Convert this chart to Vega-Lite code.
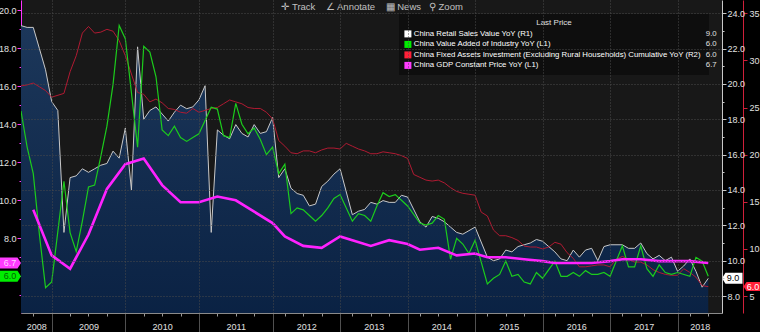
{
"$schema": "https://vega.github.io/schema/vega-lite/v6.json",
"width": 701, "height": 313,
"autosize": {"type": "none"},
"padding": {"left": 21, "top": 0, "right": 38, "bottom": 19},
"background": "#000000",
"title": {"text": "✛ Track\u00a0\u00a0\u00a0 ∠ Annotate\u00a0\u00a0\u00a0 ▦ News\u00a0\u00a0 ⚲ Zoom", "orient": "top", "anchor": "start", "dx": 283, "offset": -11, "fontSize": 9.5, "fontWeight": "normal", "color": "#c0c0c0"},
"config": {"view": {"fill": "#181818", "stroke": null}, "font": "Liberation Sans, sans-serif"},
"datasets": {
"retail": [{"i":0,"v":23.3},{"i":1,"v":23.2},{"i":2,"v":23.2},{"i":3,"v":22.0},{"i":4,"v":20.8},{"i":5,"v":19.0},
{"i":6,"v":18.5},{"i":7,"v":11.6},{"i":8,"v":14.7},{"i":9,"v":14.8},{"i":10,"v":15.2},{"i":11,"v":15.0},{"i":12,"v":15.2},{"i":13,"v":15.4},{"i":14,"v":15.5},{"i":15,"v":16.2},{"i":16,"v":15.8},{"i":17,"v":17.5},
{"i":18,"v":14.0},{"i":19,"v":22.1},{"i":20,"v":18.0},{"i":21,"v":18.5},{"i":22,"v":18.7},{"i":23,"v":18.3},{"i":24,"v":17.9},{"i":25,"v":18.4},{"i":26,"v":18.8},{"i":27,"v":18.6},{"i":28,"v":18.7},{"i":29,"v":19.1},
{"i":30,"v":19.9},{"i":31,"v":11.6},{"i":32,"v":17.4},{"i":33,"v":17.1},{"i":34,"v":16.9},{"i":35,"v":17.7},{"i":36,"v":17.2},{"i":37,"v":17.0},{"i":38,"v":17.7},{"i":39,"v":17.2},{"i":40,"v":17.3},{"i":41,"v":18.1},
{"i":42,"v":14.7},{"i":43,"v":15.2},{"i":44,"v":14.1},{"i":45,"v":13.8},{"i":46,"v":13.7},{"i":47,"v":13.1},{"i":48,"v":13.2},{"i":49,"v":14.2},{"i":50,"v":14.5},{"i":51,"v":14.9},{"i":52,"v":15.2},
{"i":54,"v":12.6},{"i":55,"v":12.8},{"i":56,"v":12.9},{"i":57,"v":13.3},{"i":58,"v":13.2},{"i":59,"v":13.4},{"i":60,"v":13.3},{"i":61,"v":13.3},{"i":62,"v":13.7},{"i":63,"v":13.6},
{"i":65,"v":12.2},{"i":66,"v":11.9},{"i":67,"v":12.5},{"i":68,"v":12.4},{"i":69,"v":12.2},{"i":70,"v":11.9},{"i":71,"v":11.6},{"i":72,"v":11.5},{"i":73,"v":11.7},{"i":74,"v":11.9},
{"i":76,"v":10.2},{"i":77,"v":10.0},{"i":78,"v":10.1},{"i":79,"v":10.6},{"i":80,"v":10.5},{"i":81,"v":10.8},{"i":82,"v":10.9},{"i":83,"v":11.0},{"i":84,"v":11.2},{"i":85,"v":11.1},
{"i":87,"v":10.5},{"i":88,"v":10.1},{"i":89,"v":10.0},{"i":90,"v":10.6},{"i":91,"v":10.2},{"i":92,"v":10.6},{"i":93,"v":10.7},{"i":94,"v":10.0},{"i":95,"v":10.8},{"i":96,"v":10.9},
{"i":98,"v":10.9},{"i":99,"v":10.7},{"i":100,"v":10.7},{"i":101,"v":11.0},{"i":102,"v":10.4},{"i":103,"v":10.1},{"i":104,"v":10.3},{"i":105,"v":10.0},{"i":106,"v":10.2},{"i":107,"v":9.4},
{"i":108,"v":9.7},{"i":109,"v":10.1},{"i":110,"v":9.4},{"i":111,"v":8.5},{"i":112,"v":9.0}],
"ip": [{"i":0,"v":14.7},{"i":1,"v":12.8},{"i":2,"v":11.4},{"i":3,"v":8.2},{"i":4,"v":5.4},{"i":5,"v":5.7},
{"i":7,"v":11.0},{"i":8,"v":8.3},{"i":9,"v":7.3},{"i":10,"v":8.9},{"i":11,"v":10.7},{"i":12,"v":10.8},{"i":13,"v":12.3},{"i":14,"v":13.9},{"i":15,"v":16.1},{"i":16,"v":19.2},{"i":17,"v":18.5},
{"i":19,"v":12.8},{"i":20,"v":18.1},{"i":21,"v":17.8},{"i":22,"v":16.5},{"i":23,"v":13.7},{"i":24,"v":13.4},{"i":25,"v":13.9},{"i":26,"v":13.3},{"i":27,"v":13.1},{"i":28,"v":13.3},{"i":29,"v":13.5},
{"i":31,"v":14.9},{"i":32,"v":14.8},{"i":33,"v":13.4},{"i":34,"v":13.3},{"i":35,"v":15.1},{"i":36,"v":14.0},{"i":37,"v":13.5},{"i":38,"v":13.8},{"i":39,"v":13.2},{"i":40,"v":12.4},{"i":41,"v":12.8},
{"i":42,"v":11.4},{"i":43,"v":11.9},{"i":44,"v":9.3},{"i":45,"v":9.6},{"i":46,"v":9.5},{"i":47,"v":9.2},{"i":48,"v":8.9},{"i":49,"v":9.2},{"i":50,"v":9.6},{"i":51,"v":10.1},{"i":52,"v":10.3},
{"i":54,"v":8.9},{"i":55,"v":9.3},{"i":56,"v":9.2},{"i":57,"v":8.9},{"i":58,"v":9.7},{"i":59,"v":10.4},{"i":60,"v":10.2},{"i":61,"v":10.3},{"i":62,"v":10.0},{"i":63,"v":9.7},
{"i":65,"v":8.8},{"i":66,"v":8.7},{"i":67,"v":8.8},{"i":68,"v":9.2},{"i":69,"v":9.0},{"i":70,"v":6.9},{"i":71,"v":8.0},{"i":72,"v":7.7},{"i":73,"v":7.2},{"i":74,"v":7.9},
{"i":76,"v":5.6},{"i":77,"v":5.9},{"i":78,"v":6.1},{"i":79,"v":6.8},{"i":80,"v":6.0},{"i":81,"v":6.1},{"i":82,"v":5.7},{"i":83,"v":5.6},{"i":84,"v":6.2},{"i":85,"v":5.9},
{"i":87,"v":6.8},{"i":88,"v":6.0},{"i":89,"v":6.0},{"i":90,"v":6.2},{"i":91,"v":6.0},{"i":92,"v":6.3},{"i":93,"v":6.1},{"i":94,"v":6.1},{"i":95,"v":6.2},{"i":96,"v":6.0},
{"i":98,"v":7.6},{"i":99,"v":6.5},{"i":100,"v":6.5},{"i":101,"v":7.6},{"i":102,"v":6.4},{"i":103,"v":6.0},{"i":104,"v":6.6},{"i":105,"v":6.2},{"i":106,"v":6.1},{"i":107,"v":6.2},
{"i":109,"v":6.0},{"i":110,"v":7.0},{"i":111,"v":6.8},{"i":112,"v":6.0}],
"fai": [{"i":0,"v":27.3},{"i":1,"v":27.4},{"i":2,"v":27.6},{"i":3,"v":27.2},{"i":4,"v":26.8},{"i":5,"v":26.1},
{"i":7,"v":26.5},{"i":8,"v":28.8},{"i":9,"v":30.5},{"i":10,"v":32.9},{"i":11,"v":33.6},{"i":12,"v":32.9},{"i":13,"v":33.0},{"i":14,"v":33.3},{"i":15,"v":33.1},{"i":16,"v":32.1},{"i":17,"v":30.5},
{"i":19,"v":26.6},{"i":20,"v":26.4},{"i":21,"v":25.6},{"i":22,"v":25.9},{"i":23,"v":25.5},{"i":24,"v":24.9},{"i":25,"v":24.8},{"i":26,"v":24.5},{"i":27,"v":24.4},{"i":28,"v":24.9},{"i":29,"v":24.5},
{"i":31,"v":24.9},{"i":32,"v":25.0},{"i":33,"v":25.4},{"i":34,"v":25.8},{"i":35,"v":25.6},{"i":36,"v":25.4},{"i":37,"v":25.0},{"i":38,"v":24.9},{"i":39,"v":24.9},{"i":40,"v":24.5},{"i":41,"v":23.8},
{"i":42,"v":21.5},{"i":43,"v":20.9},{"i":44,"v":20.2},{"i":45,"v":20.1},{"i":46,"v":20.4},{"i":47,"v":20.4},{"i":48,"v":20.2},{"i":49,"v":20.5},{"i":50,"v":20.7},{"i":51,"v":20.7},{"i":52,"v":20.6},
{"i":53,"v":21.2},{"i":54,"v":20.9},{"i":55,"v":20.6},{"i":56,"v":20.4},{"i":57,"v":20.1},{"i":58,"v":20.1},{"i":59,"v":20.3},{"i":60,"v":20.2},{"i":61,"v":20.1},{"i":62,"v":19.9},{"i":63,"v":19.6},
{"i":64,"v":17.9},{"i":65,"v":17.6},{"i":66,"v":17.3},{"i":67,"v":17.2},{"i":68,"v":17.3},{"i":69,"v":17.0},{"i":70,"v":16.5},{"i":71,"v":16.1},{"i":72,"v":15.9},{"i":73,"v":15.8},{"i":74,"v":15.7},
{"i":75,"v":13.9},{"i":76,"v":13.5},{"i":77,"v":12.0},{"i":78,"v":11.4},{"i":79,"v":11.4},{"i":80,"v":11.2},{"i":81,"v":10.9},{"i":82,"v":10.3},{"i":83,"v":10.2},{"i":84,"v":10.2},{"i":85,"v":10.0},
{"i":86,"v":10.2},{"i":87,"v":10.7},{"i":88,"v":10.5},{"i":89,"v":9.6},{"i":90,"v":9.0},{"i":91,"v":8.1},{"i":92,"v":8.1},{"i":93,"v":8.2},{"i":94,"v":8.3},{"i":95,"v":8.3},{"i":96,"v":8.1},
{"i":97,"v":8.9},{"i":98,"v":9.2},{"i":99,"v":8.9},{"i":100,"v":8.6},{"i":101,"v":8.6},{"i":102,"v":8.3},{"i":103,"v":7.8},{"i":104,"v":7.5},{"i":105,"v":7.3},{"i":106,"v":7.2},{"i":107,"v":7.2},
{"i":108,"v":7.9},{"i":109,"v":7.5},{"i":110,"v":7.0},{"i":111,"v":6.1},{"i":112,"v":6.0}],
"gdp": [{"i":2,"v":9.5},{"i":5,"v":7.1},{"i":8,"v":6.4},{"i":11,"v":8.2},{"i":14,"v":10.6},{"i":17,"v":11.9},{"i":20,"v":12.2},{"i":23,"v":10.8},{"i":26,"v":9.9},{"i":29,"v":9.9},{"i":32,"v":10.2},{"i":35,"v":10.0},{"i":38,"v":9.4},{"i":41,"v":8.8},{"i":43,"v":8.1},{"i":46,"v":7.6},{"i":49,"v":7.5},{"i":52,"v":8.1},{"i":54,"v":7.9},{"i":57,"v":7.6},{"i":60,"v":7.9},{"i":63,"v":7.7},{"i":65,"v":7.4},{"i":68,"v":7.5},{"i":71,"v":7.1},{"i":74,"v":7.2},{"i":76,"v":7.0},{"i":79,"v":7.0},{"i":82,"v":6.9},{"i":85,"v":6.8},{"i":87,"v":6.7},{"i":90,"v":6.7},{"i":93,"v":6.7},{"i":96,"v":6.8},{"i":98,"v":6.9},{"i":101,"v":6.9},{"i":104,"v":6.8},{"i":107,"v":6.8},{"i":109,"v":6.8},{"i":112,"v":6.7}]
},
"resolve": {"scale": {"y": "independent"}, "axis": {"x": "independent"}},
"layer": [
{"data": {"name": "retail"},
 "mark": {"type": "area", "clip": true, "color": {"gradient": "linear", "x1": 0, "y1": 0, "x2": 0, "y2": 1, "stops": [{"offset": 0, "color": "#1c375a"}, {"offset": 1, "color": "#03193a"}]}},
 "encoding": {
  "x": {"field": "i", "type": "quantitative", "title": null, "scale": {"domain": [0, 114.24], "nice": false, "zero": false},
   "axis": {"orient": "bottom", "values": [5,17,29,41,52,63,74,85,96,107], "labels": false, "tickSize": 19, "tickColor": "#505050", "grid": true, "gridColor": "#4a4a4a", "gridDash": [1,2], "domainColor": "#8a8a8a", "zindex": 1}},
  "y": {"field": "v", "type": "quantitative", "title": null, "scale": {"domain": [7.04, 24.75], "nice": false, "zero": false},
   "axis": {"orient": "right", "values": [8,9,10,11,12,13,14,15,16,17,18,19,20,21,22,23,24], "labelExpr": "datum.value % 2 === 0 ? format(datum.value, '.1f') : ''", "labelOverlap": false, "domainColor": "#c8c8c8", "tickColor": "#c8c8c8", "tickSize": {"condition": {"test": "datum.value % 2 === 0", "value": 4}, "value": 2}, "labelColor": "#e0e0e0", "labelFontSize": 9, "labelPadding": 1, "grid": true, "gridColor": "#4a4a4a", "gridDash": [1,2], "gridOpacity": {"condition": {"test": "datum.value % 2 === 0", "value": 1}, "value": 0}, "zindex": 1}}
 }},
{"data": {"name": "retail"},
 "mark": {"type": "line", "color": "#c8c8c8", "strokeWidth": 1, "clip": true},
 "encoding": {"x": {"field": "i", "type": "quantitative", "title": null, "axis": null},
  "y": {"field": "v", "type": "quantitative", "title": null, "scale": {"domain": [7.04, 24.75], "nice": false, "zero": false}, "axis": null}}},
{"data": {"name": "fai"},
 "mark": {"type": "line", "color": "#b01a32", "strokeWidth": 1, "clip": true},
 "encoding": {
  "x": {"field": "i", "type": "quantitative", "title": null,
   "axis": {"orient": "bottom", "values": [2,8,11,14,20,23,26,32,35,38,43,46,49,54,57,60,65,68,71,76,79,82,87,90,93,98,101,104,109,112], "labels": false, "tickSize": 3, "tickColor": "#9a9a9a", "domain": false, "grid": false}},
  "y": {"field": "v", "type": "quantitative", "title": null, "scale": {"domain": [3.2, 36.41], "nice": false, "zero": false},
   "axis": {"orient": "right", "offset": 21, "values": [5,10,15,20,25,30,35], "format": "d", "labelOverlap": false, "domainColor": "#d0203a", "tickColor": "#d0203a", "tickSize": 4, "labelColor": "#e0e0e0", "labelFontSize": 9, "labelPadding": 2, "grid": false}}
 }},
{"data": {"name": "ip"},
 "mark": {"type": "line", "color": "#1ccc1c", "strokeWidth": 1.2, "clip": true},
 "encoding": {
  "x": {"field": "i", "type": "quantitative", "title": null,
   "axis": {"orient": "bottom", "values": [2.5,11,23,35,46.5,57.5,68.5,79.5,90.5,101.5,110.6], "labelExpr": "datum.value < 5 ? '2008' : datum.value < 17 ? '2009' : datum.value < 29 ? '2010' : datum.value < 41 ? '2011' : datum.value < 52 ? '2012' : datum.value < 63 ? '2013' : datum.value < 74 ? '2014' : datum.value < 85 ? '2015' : datum.value < 96 ? '2016' : datum.value < 107 ? '2017' : '2018'", "ticks": false, "domain": false, "grid": false, "labelFlush": false, "labelOverlap": false, "labelColor": "#e0e0e0", "labelFontSize": 9, "labelPadding": 9}},
  "y": {"field": "v", "type": "quantitative", "title": null, "scale": {"domain": [4.07, 20.54], "nice": false, "zero": false},
   "axis": {"orient": "left", "values": [5,6,7,8,9,10,11,12,13,14,15,16,17,18,19,20], "labelExpr": "datum.value % 2 === 0 ? format(datum.value, '.1f') : ''", "labelOverlap": false, "domainColor": "#ff33ff", "tickColor": "#ff33ff", "tickSize": {"condition": {"test": "datum.value % 2 === 0", "value": 4}, "value": 2}, "labelColor": "#e0e0e0", "labelFontSize": 9, "labelPadding": 1, "grid": false}}
 }},
{"data": {"name": "gdp"},
 "mark": {"type": "line", "color": "#ff22ff", "strokeWidth": 2.6, "clip": true},
 "encoding": {"x": {"field": "i", "type": "quantitative", "title": null, "axis": null},
  "y": {"field": "v", "type": "quantitative", "title": null, "scale": {"domain": [4.07, 20.54], "nice": false, "zero": false}, "axis": null}}},
{"data": {"name": "retail"}, "transform": [{"filter": "datum.i == 112"}],
 "mark": {"type": "point", "filled": true, "size": 100, "opacity": 1, "strokeWidth": 0},
 "encoding": {
  "x": {"datum": 114.24, "type": "quantitative", "axis": null},
  "y": {"field": "v", "type": "quantitative", "title": null, "scale": {"domain": [7.04, 24.75], "nice": false, "zero": false}, "axis": null},
  "color": {"datum": "China Retail Sales Value YoY  (R1)", "type": "nominal",
   "scale": {"domain": ["China Retail Sales Value YoY  (R1)", "China Value Added of Industry YoY  (L1)", "China Fixed Assets Investment (Excluding Rural Households) Cumulative YoY  (R2)       ", "China GDP Constant Price YoY  (L1)"], "range": ["#ffffff", "#00ee00", "#ff2038", "#ff3cff"]},
   "legend": {"orient": "none", "legendX": 378, "legendY": 14, "title": "Last Price", "titleColor": "#e0e0e0", "titleFontSize": 8, "titleFontWeight": "normal", "titleAnchor": "middle", "titlePadding": 3, "fillColor": "#0e0e0e", "padding": 5, "symbolType": "square", "symbolSize": 49, "symbolStrokeWidth": 0, "labelColor": "#ffffff", "labelFontSize": 7.8, "labelLimit": 400, "labelOffset": 2, "rowPadding": 1.5}},
  "shape": {"datum": "9.0", "type": "nominal",
   "scale": {"domain": ["9.0", "6.0", "6.0 ", "6.7"], "range": ["M0,0L0.7,-1.1L4.1,-1.1L4.1,1.1L0.7,1.1Z", "M-4.2,-1.1L-0.7,-1.1L0,0L-0.7,1.1L-4.2,1.1Z", "M4.3,0L4.9,-0.9L7.8,-0.9L7.8,0.9L4.9,0.9Z", "M-4.2,-1.1L-0.7,-1.1L0,0L-0.7,1.1L-4.2,1.1Z"]},
   "legend": {"orient": "none", "legendX": 668, "legendY": 14, "title": " ", "titleFontSize": 8, "titlePadding": 3, "padding": 5, "symbolOpacity": 0, "symbolSize": 0, "symbolStrokeWidth": 0, "labelColor": "#e0e0e0", "labelFontSize": 7.8, "labelOffset": 4, "rowPadding": 1.5}}
 }},
{"data": {"name": "retail"}, "transform": [{"filter": "datum.i == 112"}],
 "mark": {"type": "text", "color": "#000000", "fontSize": 9, "dx": 11, "align": "center", "baseline": "middle"},
 "encoding": {"x": {"datum": 114.24, "type": "quantitative", "axis": null},
  "y": {"field": "v", "type": "quantitative", "title": null, "scale": {"domain": [7.04, 24.75], "nice": false, "zero": false}, "axis": null},
  "text": {"field": "v", "type": "quantitative", "format": ".1f"}}},
{"data": {"name": "fai"}, "transform": [{"filter": "datum.i == 112"}],
 "mark": {"type": "point", "filled": true, "size": 100, "opacity": 1, "strokeWidth": 0},
 "encoding": {"x": {"datum": 114.24, "type": "quantitative", "axis": null},
  "y": {"field": "v", "type": "quantitative", "title": null, "scale": {"domain": [3.2, 36.41], "nice": false, "zero": false}, "axis": null},
  "color": {"datum": "China Fixed Assets Investment (Excluding Rural Households) Cumulative YoY  (R2)       ", "type": "nominal"},
  "shape": {"datum": "6.0 ", "type": "nominal"}}},
{"data": {"name": "fai"}, "transform": [{"filter": "datum.i == 112"}],
 "mark": {"type": "text", "color": "#ffffff", "fontSize": 9, "dx": 31, "align": "center", "baseline": "middle"},
 "encoding": {"x": {"datum": 114.24, "type": "quantitative", "axis": null},
  "y": {"field": "v", "type": "quantitative", "title": null, "scale": {"domain": [3.2, 36.41], "nice": false, "zero": false}, "axis": null},
  "text": {"field": "v", "type": "quantitative", "format": ".1f"}}},
{"data": {"name": "gdp"}, "transform": [{"filter": "datum.i == 112"}],
 "mark": {"type": "point", "filled": true, "size": 100, "opacity": 1, "strokeWidth": 0},
 "encoding": {"x": {"datum": 0, "type": "quantitative", "axis": null},
  "y": {"field": "v", "type": "quantitative", "title": null, "scale": {"domain": [4.07, 20.54], "nice": false, "zero": false}, "axis": null},
  "color": {"datum": "China GDP Constant Price YoY  (L1)", "type": "nominal"},
  "shape": {"datum": "6.7", "type": "nominal"}}},
{"data": {"name": "gdp"}, "transform": [{"filter": "datum.i == 112"}],
 "mark": {"type": "text", "color": "#ffd0ff", "fontSize": 9, "dx": -11, "align": "center", "baseline": "middle"},
 "encoding": {"x": {"datum": 0, "type": "quantitative", "axis": null},
  "y": {"field": "v", "type": "quantitative", "title": null, "scale": {"domain": [4.07, 20.54], "nice": false, "zero": false}, "axis": null},
  "text": {"field": "v", "type": "quantitative", "format": ".1f"}}},
{"data": {"name": "ip"}, "transform": [{"filter": "datum.i == 112"}],
 "mark": {"type": "point", "filled": true, "size": 100, "opacity": 1, "strokeWidth": 0},
 "encoding": {"x": {"datum": 0, "type": "quantitative", "axis": null},
  "y": {"field": "v", "type": "quantitative", "title": null, "scale": {"domain": [4.07, 20.54], "nice": false, "zero": false}, "axis": null},
  "color": {"datum": "China Value Added of Industry YoY  (L1)", "type": "nominal"},
  "shape": {"datum": "6.0", "type": "nominal"}}},
{"data": {"name": "ip"}, "transform": [{"filter": "datum.i == 112"}],
 "mark": {"type": "text", "color": "#006600", "fontSize": 9, "dx": -11, "align": "center", "baseline": "middle"},
 "encoding": {"x": {"datum": 0, "type": "quantitative", "axis": null},
  "y": {"field": "v", "type": "quantitative", "title": null, "scale": {"domain": [4.07, 20.54], "nice": false, "zero": false}, "axis": null},
  "text": {"field": "v", "type": "quantitative", "format": ".1f"}}}
]
}
